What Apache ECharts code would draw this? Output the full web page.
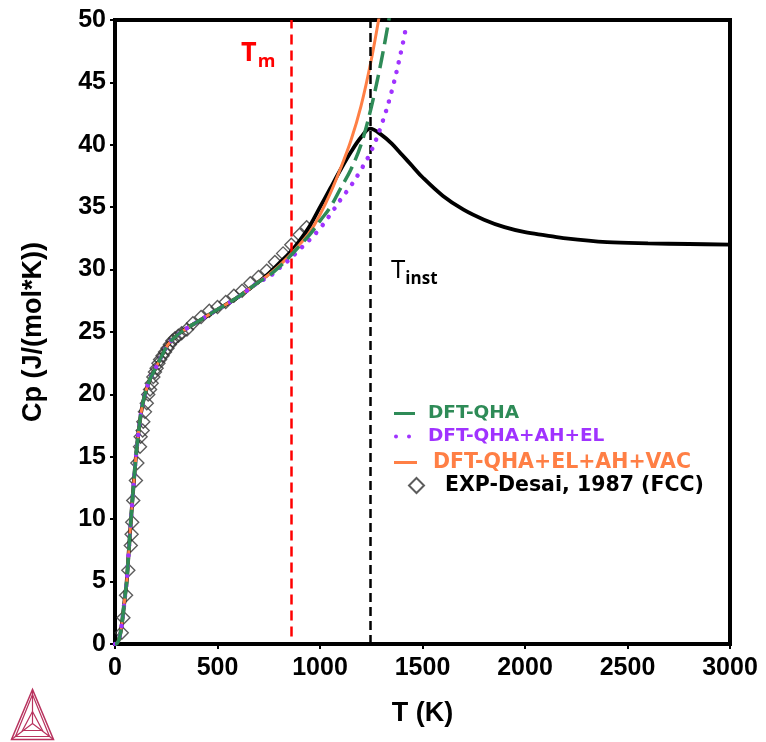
<!DOCTYPE html>
<html>
<head>
<meta charset="utf-8">
<script src="https://cdn.jsdelivr.net/npm/echarts@6/dist/echarts.min.js"></script>
<style>
  html, body { margin: 0; padding: 0; background: #fff; }
  #chart { width: 766px; height: 742px; }
</style>
</head>
<body>
<div id="chart"></div>
<script>
// Heat capacity of FCC phase vs temperature: DFT models and experiment

// Low-temperature part shared by the computed curves [T (K), Cp]
const lowTemperatureCp = [
  [0, 0], [10, 0.05], [20, 0.4], [30, 1.2], [40, 2.5], [50, 4.0], [57, 5.0], [65, 6.9],
  [78, 10.0], [90, 12.6], [102, 15.0], [115, 17.0], [130, 18.8], [146, 20.0], [170, 21.2],
  [195, 22.0], [225, 23.0], [259, 24.0], [300, 24.7], [350, 25.3], [400, 25.8], [500, 26.8],
  [600, 27.8], [700, 29.0]
];

// High-temperature branches
const cpTotalHigh = [
  [750, 29.7], [800, 30.5], [850, 31.3], [900, 32.3], [950, 33.5], [1000, 35.0], [1050, 36.5],
  [1100, 38.0], [1150, 39.4], [1200, 40.6], [1245, 41.3], [1300, 40.8], [1350, 40.1],
  [1400, 39.2], [1450, 38.3], [1500, 37.4], [1600, 35.9], [1700, 34.8], [1800, 34.0],
  [1900, 33.4], [2000, 33.0], [2100, 32.75], [2200, 32.5], [2400, 32.2], [2600, 32.1],
  [2800, 32.05], [3000, 32.0]
];
const cpQhaHigh = [
  [750, 29.5], [800, 30.2], [850, 31.0], [900, 31.9], [950, 32.8], [1000, 33.9], [1050, 35.0],
  [1100, 36.5], [1150, 38.0], [1200, 40.0], [1250, 43.0], [1300, 46.8], [1340, 50.4]
];
const cpQhaAhElHigh = [
  [750, 29.4], [800, 30.1], [850, 30.8], [900, 31.6], [950, 32.4], [1000, 33.3], [1050, 34.4],
  [1100, 35.6], [1150, 36.7], [1200, 38.0], [1250, 39.5], [1300, 41.6], [1350, 44.3],
  [1400, 47.8], [1418, 49.3]
];
const cpQhaElAhVacHigh = [
  [750, 29.6], [800, 30.3], [850, 31.1], [900, 32.0], [950, 33.0], [1000, 34.4], [1050, 36.1],
  [1100, 38.1], [1150, 40.3], [1200, 43.1], [1250, 46.8], [1290, 50.4]
];

// Experimental data (Desai, 1987)
const expDesai = [
  [33, 0.9], [41, 2.1], [54, 3.9], [65, 5.9], [77, 7.9], [81, 8.8], [84, 9.75], [89, 11.5],
  [102, 13.1], [109, 14.5], [122, 15.8], [125, 16.6], [135, 17.1], [138, 17.8], [146, 18.6],
  [155, 19.3], [162, 20.0], [171, 20.4], [179, 20.9], [187, 21.4], [195, 21.8], [203, 22.1],
  [212, 22.5], [220, 22.8], [232, 23.1], [244, 23.4], [256, 23.7], [268, 24.0], [280, 24.3],
  [293, 24.5], [309, 24.7], [325, 24.9], [351, 25.2], [380, 25.7], [420, 26.2], [460, 26.7],
  [500, 27.0], [540, 27.4], [580, 27.9], [620, 28.3], [660, 28.9], [700, 29.4], [740, 29.9],
  [780, 30.6], [820, 31.3], [860, 32.0], [900, 32.8], [935, 33.4]
];

// Characteristic temperatures
const meltingT = 860;
const instabilityT = 1245;

const xTicks = { min: 0, max: 3000, step: 500 };
const yTicks = { min: 0, max: 50, step: 5 };

const seriesNames = {
  qha: 'DFT-QHA',
  qhaAhEl: 'DFT-QHA+AH+EL',
  qhaElAhVac: 'DFT-QHA+EL+AH+VAC',
  exp: 'EXP-Desai, 1987 (FCC)',
  total: 'Cp total'
};

const colors = {
  qha: '#2e8b57',
  qhaAhEl: '#a033ff',
  qhaElAhVac: '#ff7f45',
  exp: '#333333',
  red: '#ff0000',
  logo: '#b8325e'
};

const axisFont = 'Liberation Sans, Arial, sans-serif';
const legendFont = 'DejaVu Sans, Verdana, sans-serif';

const chart = echarts.init(document.getElementById('chart'), null, { renderer: 'canvas' });

function legendRow(name, left, top, color, fontSize, icon, w, h, pad) {
  return {
    data: [{ name: name, icon: icon }],
    left: left, top: top, orient: 'vertical',
    itemWidth: w, itemHeight: h, itemGap: 0, padding: 0,
    selectedMode: false,
    textStyle: { color: color, fontSize: fontSize, fontWeight: 'bold', fontFamily: legendFont, padding: [0, 0, 0, pad] }
  };
}

const plainNumber = function (v) { return String(v); };

const option = {
  backgroundColor: '#ffffff',
  animation: false,
  grid: {
    left: 115, right: 36, top: 20, bottom: 98,
    show: true, borderColor: '#000', borderWidth: 4, backgroundColor: 'transparent'
  },
  xAxis: {
    type: 'value', min: xTicks.min, max: xTicks.max, interval: xTicks.step,
    name: 'T (K)', nameLocation: 'middle', nameGap: 56,
    nameTextStyle: { fontSize: 27, fontWeight: 'bold', fontFamily: axisFont, color: '#000' },
    axisLine: { show: true, onZero: false, lineStyle: { color: '#000', width: 4 } },
    axisTick: { show: true, inside: false, length: 5, lineStyle: { color: '#000', width: 2 } },
    axisLabel: { fontSize: 25, fontWeight: 'bold', fontFamily: axisFont, color: '#000', margin: 12, formatter: plainNumber },
    splitLine: { show: false }
  },
  yAxis: {
    type: 'value', min: yTicks.min, max: yTicks.max, interval: yTicks.step,
    name: 'Cp (J/(mol*K))', nameLocation: 'middle', nameGap: 68,
    nameTextStyle: { fontSize: 27, fontWeight: 'bold', fontFamily: axisFont, color: '#000' },
    axisLine: { show: true, onZero: false, lineStyle: { color: '#000', width: 4 } },
    axisTick: { show: true, inside: false, length: 5, lineStyle: { color: '#000', width: 2 } },
    axisLabel: { fontSize: 25, fontWeight: 'bold', fontFamily: axisFont, color: '#000', margin: 9, formatter: plainNumber },
    splitLine: { show: false }
  },
  legend: [
    legendRow(seriesNames.qha, 394, 404, colors.qha, 18.5, 'rect', 21, 3, 8),
    legendRow(seriesNames.qhaAhEl, 394, 427, colors.qhaAhEl, 18.5,
      'path://M0,0 a2,2 0 1,0 4,0 a2,2 0 1,0 -4,0 M13,0 a2,2 0 1,0 4,0 a2,2 0 1,0 -4,0', 17, 4, 12),
    legendRow(seriesNames.qhaElAhVac, 394, 452, colors.qhaElAhVac, 20.5, 'rect', 23, 3, 11),
    legendRow(seriesNames.exp, 408, 475, '#000', 20.5, 'diamond', 15, 15, 16)
  ],
  series: [
    {
      name: seriesNames.exp, type: 'scatter', data: expDesai, z: 2,
      symbol: 'diamond', symbolSize: [13, 13],
      itemStyle: { color: 'rgba(255,255,255,0)', borderColor: colors.exp, borderWidth: 1.4 }
    },
    {
      name: seriesNames.total, type: 'line', data: lowTemperatureCp.concat(cpTotalHigh), z: 3,
      showSymbol: false, smooth: 0.35,
      lineStyle: { color: '#000', width: 3.8 },
      markLine: {
        silent: true, symbol: 'none', animation: false, label: { show: false },
        data: [
          [{ coord: [meltingT, 0.6], lineStyle: { color: colors.red, width: 2.5, type: [10, 6] } },
           { coord: [meltingT, 50] }],
          [{ coord: [instabilityT, 0], lineStyle: { color: '#000', width: 2.5, type: [9, 5] } },
           { coord: [instabilityT, 50] }]
        ]
      }
    },
    {
      name: seriesNames.qhaElAhVac, type: 'line', data: lowTemperatureCp.concat(cpQhaElAhVacHigh), z: 4,
      showSymbol: false, smooth: 0.35,
      itemStyle: { color: colors.qhaElAhVac },
      lineStyle: { color: colors.qhaElAhVac, width: 3 }
    },
    {
      name: seriesNames.qhaAhEl, type: 'line', data: lowTemperatureCp.concat(cpQhaAhElHigh), z: 5,
      showSymbol: false, smooth: 0.35,
      itemStyle: { color: colors.qhaAhEl },
      lineStyle: { color: colors.qhaAhEl, width: 4.5, type: [0.1, 10], cap: 'round' }
    },
    {
      name: seriesNames.qha, type: 'line', data: lowTemperatureCp.concat(cpQhaHigh), z: 6,
      showSymbol: false, smooth: 0.35,
      itemStyle: { color: colors.qha },
      lineStyle: { color: colors.qha, width: 3.5, type: [17, 7] }
    }
  ],
  graphic: [
    {
      type: 'text', left: 241, top: 40, silent: true,
      style: {
        text: '{a|T}{b|m}', fill: colors.red,
        rich: {
          a: { fontSize: 27, fontWeight: 'bold', fontFamily: 'Open Sans, sans-serif', fill: colors.red, verticalAlign: 'bottom' },
          b: { fontSize: 18, fontWeight: 'bold', fontFamily: 'Open Sans, sans-serif', fill: colors.red, verticalAlign: 'bottom', padding: [0, 0, -4, 1] }
        }
      }
    },
    {
      type: 'text', left: 391, top: 258, silent: true,
      style: {
        text: '{a|T}{b|inst}', fill: '#000',
        rich: {
          a: { fontSize: 26, fontFamily: 'Open Sans, sans-serif', fill: '#000', verticalAlign: 'bottom' },
          b: { fontSize: 17, fontWeight: 'bold', fontFamily: 'Open Sans, sans-serif', fill: '#000', verticalAlign: 'bottom', padding: [0, 0, -4, 0] }
        }
      }
    },
    {
      type: 'group', left: 9, top: 687, silent: true,
      children: [
        { type: 'polygon', shape: { points: [[21, 0], [0, 50], [42, 50]] }, style: { fill: 'none', stroke: colors.logo, lineWidth: 1.5 } },
        { type: 'polygon', shape: { points: [[21, 5], [4, 47], [38, 47]] }, style: { fill: 'none', stroke: colors.logo, lineWidth: 1.2 } },
        { type: 'polygon', shape: { points: [[21, 22], [11, 41], [31, 41]] }, style: { fill: 'none', stroke: colors.logo, lineWidth: 1.2 } },
        { type: 'polyline', shape: { points: [[21, 0], [21, 34]] }, style: { stroke: colors.logo, lineWidth: 1.2 } },
        { type: 'polyline', shape: { points: [[0, 50], [21, 34], [42, 50]] }, style: { fill: 'none', stroke: colors.logo, lineWidth: 1.2 } }
      ]
    }
  ]
};

chart.setOption(option);
</script>
</body>
</html>
